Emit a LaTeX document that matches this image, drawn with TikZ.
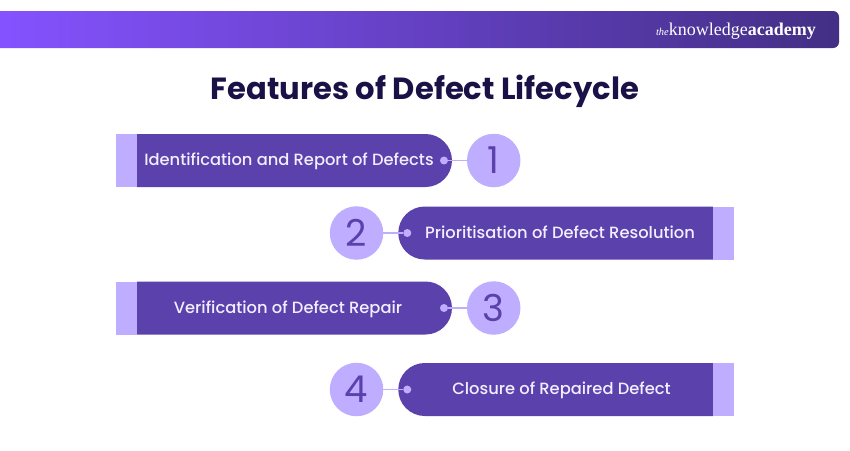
\documentclass[tikz,border=0pt]{standalone}
\usepackage{fontspec}
\setmainfont{Poppins}
\newfontfamily\popmed{Poppins Medium}
\newfontfamily\logofont{Liberation Serif}
\usetikzlibrary{positioning,shapes.misc}
\definecolor{bandL}{HTML}{8552FF}
\definecolor{bandM}{HTML}{6A43CF}
\definecolor{bandR}{HTML}{432F85}
\definecolor{pilldark}{HTML}{5A41AB}
\definecolor{pilllight}{HTML}{BFAEFF}
\definecolor{titleink}{HTML}{1A1147}
\definecolor{pilltext}{HTML}{F3EEFF}

\begin{document}
\begin{tikzpicture}[x=1pt,y=-1pt,
  pill/.style={rounded rectangle,fill=pilldark,text=pilltext,inner sep=0pt,outer sep=0pt,
    minimum height=53pt,text height=12pt,text depth=2pt,font=\popmed\fontsize{16.3}{18}\selectfont},
  pill right/.style={pill,rounded rectangle east arc=none,minimum width=314.5pt},
  pill left/.style={pill,rounded rectangle west arc=none,minimum width=315pt},
  tab/.style={rectangle,fill=pilllight,inner sep=0pt,outer sep=0pt,minimum width=21pt,minimum height=53pt},
  num/.style={circle,fill=pilllight,text=pilldark,inner sep=0pt,outer sep=0pt,minimum size=53.5pt,
    font=\fontsize{37}{40}\selectfont},
  dot/.style={circle,fill=pilllight,inner sep=0pt,outer sep=0pt,minimum size=8pt},
  link/.style={draw=pilllight,line width=1.2pt}]
\useasboundingbox (0,0) rectangle (850,450);
% top band
\shade[left color=bandL,middle color=bandM,right color=bandR]
  (0,11) [rounded corners=6pt] -- (839,11) -- (839,48) [sharp corners] -- (0,48) -- cycle;
\node[anchor=base east,text=white,inner sep=0pt,font=\logofont\fontsize{18}{20}\selectfont] (logo) at (816,35)
  {{\fontsize{10.5}{12}\selectfont\itshape the}knowledge\textbf{academy}};
\node[anchor=base,text=titleink,inner sep=0pt,font=\fontsize{30.6}{36}\selectfont\bfseries] (title) at (425,99)
  {Features of Defect Lifecycle};
% left rows
\node[pill left] (P1) at (294,160.5) {Identification and Report of Defects\hspace*{10pt}};
\node[tab,left=0pt of P1] (T1) {};
\node[num,right=15pt of P1] (N1) {1};
\node[dot,left=4pt of P1.east] (D1) {};
\draw[link] (D1) -- (N1);
\node[pill left] (P3) at (294,308) {Verification of Defect Repair\hspace*{12pt}};
\node[tab,left=0pt of P3] (T3) {};
\node[num,right=15pt of P3] (N3) {3};
\node[dot,left=4pt of P3.east] (D3) {};
\draw[link] (D3) -- (N3);
% right rows
\node[pill right] (P2) at (556,233) {\hspace*{8pt}Prioritisation of Defect Resolution};
\node[tab,right=0pt of P2] (T2) {};
\node[num,left=15pt of P2] (N2) {2};
\node[dot,right=5pt of P2.west] (D2) {};
\draw[link] (D2) -- (N2);
\node[pill right] (P4) at (556,389.5) {\hspace*{11pt}Closure of Repaired Defect};
\node[tab,right=0pt of P4] (T4) {};
\node[num,left=15pt of P4] (N4) {4};
\node[dot,right=5pt of P4.west] (D4) {};
\draw[link] (D4) -- (N4);
\end{tikzpicture}
\end{document}
